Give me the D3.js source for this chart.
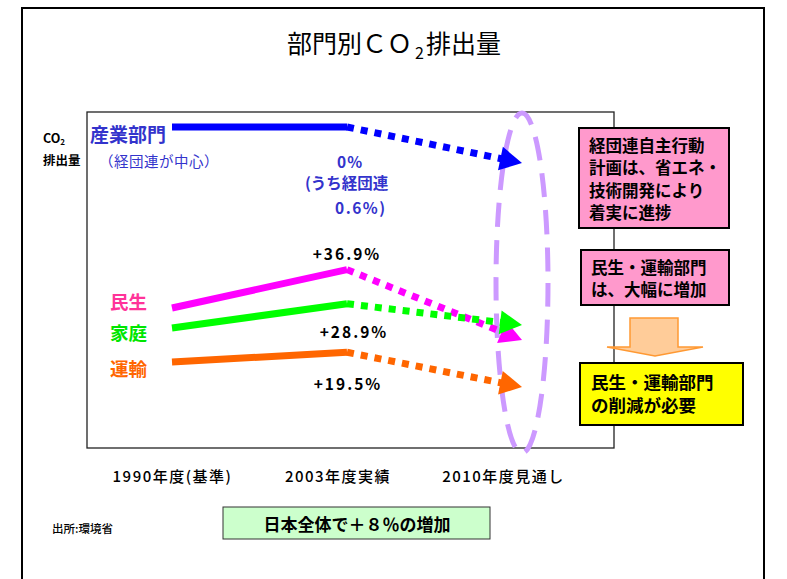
<!DOCTYPE html>
<html>
<head>
<meta charset="utf-8">
<script src="https://cdn.jsdelivr.net/npm/d3@7"></script>
<style>
  body { margin: 0; background: #fff; }
  svg { display: block; }
  text { font-family: "Noto Sans CJK JP", "Noto Sans", sans-serif; }
</style>
</head>
<body>
<svg id="chart" width="787" height="579"></svg>
<script>
// Fiscal-year milestones along the horizontal axis
const yearLabels = ["1990年度(基準)", "2003年度実績", "2010年度見通し"];

// Sectors and their emission index values
const sectorNames = ["産業部門", "民生", "家庭", "運輸"];
const emissions1990 = [285, 104, 84, 50];
const change2003 = [0, 36.9, 28.9, 19.5];      // % change 1990 -> 2003
const outlook2010 = [249, 72, 87, 25];
const keidanrenChange = 0.6;                     // % change, Keidanren members
const nationalChange = 8;                        // % change, whole of Japan

const lineColors = ["#0000ff", "#ff00ff", "#00ff00", "#ff6600"];
const labelColors = ["#3333cc", "#ff3399", "#00e600", "#ff6600"];

// Side notes
const noteIndustry = ["経団連自主行動", "計画は、省エネ・", "技術開発により", "着実に進捗"];
const noteIncrease = ["民生・運輸部門", "は、大幅に増加"];
const noteConclusion = ["民生・運輸部門", "の削減が必要"];

const svg = d3.select("#chart");

const x = d3.scalePoint().domain(yearLabels).range([172, 522]);
const xLabel = d3.scalePoint().domain(yearLabels).range([172, 503]);
const y = d3.scaleLinear().domain([0, 300]).range([412, 112]);

const sectors = sectorNames.map((name, i) => ({
  name,
  v1990: emissions1990[i],
  v2003: emissions1990[i] * (1 + change2003[i] / 100),
  v2010: outlook2010[i],
  change: change2003[i],
  color: lineColors[i],
  labelColor: labelColors[i]
}));

// Outer frame
svg.append("rect")
  .attr("x", 22).attr("y", 8).attr("width", 742).attr("height", 600)
  .attr("fill", "none").attr("stroke", "#000").attr("stroke-width", 2);

// Title
const title = svg.append("text")
  .attr("x", 394).attr("y", 53)
  .attr("text-anchor", "middle")
  .attr("font-size", 25)
  .attr("fill", "#000");
title.append("tspan").text("部門別ＣＯ");
title.append("tspan").attr("font-size", 16).attr("dy", 6).attr("dx", 3).text("2");
title.append("tspan").attr("dy", -6).attr("dx", 2).text("排出量");

// Y-axis caption
const yCap = svg.append("text").attr("x", 43).attr("y", 143)
  .attr("font-size", 12.5).attr("font-weight", 700).attr("fill", "#000");
yCap.append("tspan").text("CO");
yCap.append("tspan").attr("font-size", 8).attr("dy", 2).text("2");
svg.append("text").attr("x", 43).attr("y", 165)
  .attr("font-size", 12.5).attr("font-weight", 700).attr("fill", "#000")
  .text("排出量");

// Plot frame
svg.append("rect")
  .attr("x", 87).attr("y", y(300)).attr("width", 527).attr("height", 448 - y(300))
  .attr("fill", "none").attr("stroke", "#222").attr("stroke-width", 1.3);

// Outlook ellipse around 2010
svg.append("ellipse")
  .attr("cx", x(yearLabels[2])).attr("cy", 283)
  .attr("rx", 26).attr("ry", 170)
  .attr("fill", "none").attr("stroke", "#cc99ff")
  .attr("stroke-width", 5).attr("stroke-dasharray", "24 13");

// Sector trajectories: solid to 2003, dotted arrow to the 2010 outlook
const lineGen = d3.line();
sectors.forEach(s => {
  const p0 = [x(yearLabels[0]), y(s.v1990)];
  const p1 = [x(yearLabels[1]), y(s.v2003)];
  const p2 = [x(yearLabels[2]), y(s.v2010)];
  const g = svg.append("g");

  g.append("path")
    .attr("d", lineGen([p0, p1]))
    .attr("fill", "none").attr("stroke", s.color).attr("stroke-width", 7);

  const dx = p2[0] - p1[0], dy = p2[1] - p1[1];
  const len = Math.hypot(dx, dy);
  const ux = dx / len, uy = dy / len;
  const headLen = 22, headHalf = 12;
  const base = [p2[0] - ux * headLen, p2[1] - uy * headLen];

  g.append("path")
    .attr("d", lineGen([p1, [base[0] + ux * 2, base[1] + uy * 2]]))
    .attr("fill", "none").attr("stroke", s.color).attr("stroke-width", 7)
    .attr("stroke-dasharray", "7 7");

  g.append("path")
    .attr("d", lineGen([
      p2,
      [base[0] - uy * headHalf, base[1] + ux * headHalf],
      [base[0] + uy * headHalf, base[1] - ux * headHalf]
    ]) + "Z")
    .attr("fill", s.color);
});

// Sector labels
svg.append("text").attr("x", 90).attr("y", 133)
  .attr("dominant-baseline", "central")
  .attr("font-size", 19).attr("font-weight", 700).attr("fill", sectors[0].labelColor)
  .text(sectors[0].name);
svg.append("text").attr("x", 99).attr("y", 160)
  .attr("dominant-baseline", "central")
  .attr("font-size", 14.5).attr("letter-spacing", 0.5).attr("fill", sectors[0].labelColor)
  .text("（経団連が中心）");

const sideLabelY = { "民生": 301, "家庭": 332, "運輸": 368 };
sectors.slice(1).forEach(s => {
  svg.append("text").attr("x", 110).attr("y", sideLabelY[s.name])
    .attr("dominant-baseline", "central")
    .attr("font-size", 18.5).attr("font-weight", 700).attr("fill", s.labelColor)
    .text(s.name);
});

// Change annotations at 2003
const fmtPct = v => (v > 0 ? "+" : "") + v + "%";
const x2003 = x(yearLabels[1]);

const ind = svg.append("text").attr("fill", sectors[0].labelColor)
  .attr("font-size", 15.5).attr("font-weight", 700);
ind.append("tspan").attr("x", 337).attr("y", 168).attr("letter-spacing", 1)
  .text(fmtPct(sectors[0].change));
ind.append("tspan").attr("x", 305).attr("y", 189)
  .text("(うち経団連");
ind.append("tspan").attr("x", 335).attr("y", 214).attr("letter-spacing", 1.5)
  .text(keidanrenChange + "%)");

const pctOffsets = { "民生": [0, -17], "家庭": [7, 27], "運輸": [1, 31] };
sectors.slice(1).forEach(s => {
  const [ox, oy] = pctOffsets[s.name];
  svg.append("text")
    .attr("x", x2003 + ox).attr("y", y(s.v2003) + oy)
    .attr("text-anchor", "middle").attr("dominant-baseline", "central")
    .attr("font-size", 15.5).attr("font-weight", 700)
    .attr("letter-spacing", 2).attr("fill", "#000")
    .text(fmtPct(s.change));
});

// Year axis
const axis = svg.append("g").attr("transform", "translate(0,477)")
  .call(d3.axisBottom(xLabel).tickSize(0))
  .call(g => g.select(".domain").remove());
axis.selectAll("text")
  .attr("y", 0).attr("dy", "0.35em")
  .attr("font-size", 15).attr("font-weight", 500)
  .attr("letter-spacing", 1.5).attr("fill", "#000")
  .style("font-family", "\"Noto Sans CJK JP\", sans-serif");

// Side notes: one multi-line text block per box
function noteBox(x0, y0, w, h, fill, lines, size, lineGap, textX, firstBaseline) {
  svg.append("rect").attr("x", x0).attr("y", y0).attr("width", w).attr("height", h)
    .attr("fill", fill).attr("stroke", "#000").attr("stroke-width", 2);
  const t = svg.append("text")
    .attr("font-size", size).attr("font-weight", 700).attr("fill", "#000");
  lines.forEach((line, i) => {
    t.append("tspan").attr("x", textX).attr("y", firstBaseline + i * lineGap).text(line);
  });
}
noteBox(579, 128, 150, 100, "#ff99cc", noteIndustry, 16.5, 22.3, 589, 152);
noteBox(581, 250, 148, 55, "#ff99cc", noteIncrease, 16.5, 22, 591, 274);

// Down arrow between notes
svg.append("path")
  .attr("d", "M630,318 L678,318 L678,347 L703,347 L655,356 L607,347 L630,347 Z")
  .attr("fill", "#ffcc99").attr("stroke", "#ff9933").attr("stroke-width", 1.5);

noteBox(580, 363, 163, 62, "#ffff00", noteConclusion, 17.5, 23.5, 591, 388.5);

// Source
svg.append("text").attr("x", 52).attr("y", 528)
  .attr("dominant-baseline", "central")
  .attr("font-size", 11.5).attr("font-weight", 500).attr("fill", "#000")
  .text("出所:環境省");

// National total
svg.append("rect").attr("x", 223).attr("y", 507).attr("width", 267).attr("height", 32)
  .attr("fill", "#ccffcc").attr("stroke", "#333").attr("stroke-width", 1);
svg.append("text").attr("x", 357).attr("y", 523)
  .attr("text-anchor", "middle").attr("dominant-baseline", "central")
  .attr("font-size", 17).attr("font-weight", 700).attr("fill", "#000")
  .text("日本全体で＋" + String.fromCharCode(0xFF10 + nationalChange) + "％の増加");
</script>
</body>
</html>
